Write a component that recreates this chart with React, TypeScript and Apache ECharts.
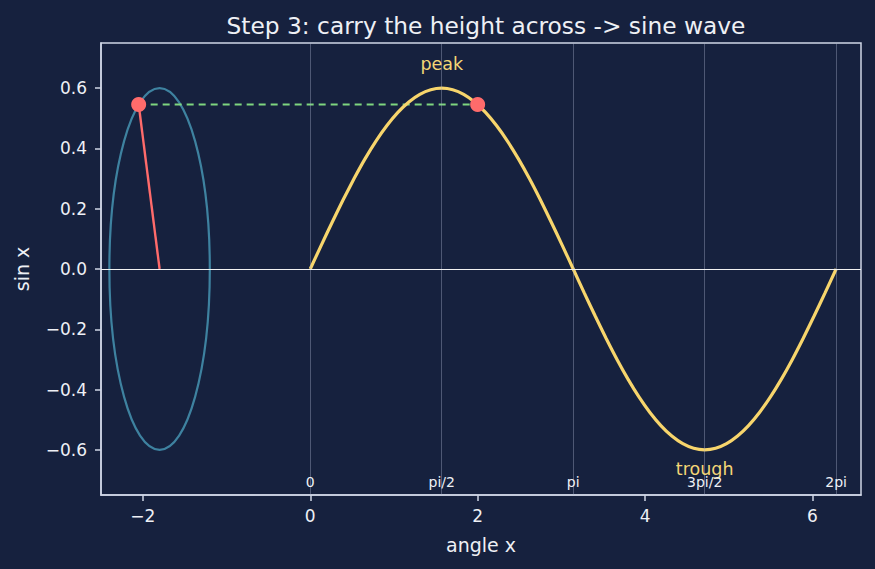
import React, { useEffect, useRef } from "react";
import * as echarts from "echarts";

const titleText = "Step 3: carry the height across -> sine wave";
const xTicks = [-2, 0, 2, 4, 6];
const yTicks = [-0.6, -0.4, -0.2, 0, 0.2, 0.4, 0.6];

const sineX = [0, 0.131, 0.262, 0.393, 0.524, 0.654, 0.785, 0.916, 1.047, 1.178, 1.309, 1.44, 1.571, 1.702, 1.833, 1.963, 2.094, 2.225, 2.356, 2.487, 2.618, 2.749, 2.88, 3.011, 3.142, 3.272, 3.403, 3.534, 3.665, 3.796, 3.927, 4.058, 4.189, 4.32, 4.451, 4.581, 4.712, 4.843, 4.974, 5.105, 5.236, 5.367, 5.498, 5.629, 5.76, 5.89, 6.021, 6.152, 6.283];
const sineY = [0, 0.0783, 0.1553, 0.2296, 0.3, 0.3653, 0.4243, 0.476, 0.5196, 0.5543, 0.5796, 0.5949, 0.6, 0.5949, 0.5796, 0.5543, 0.5196, 0.476, 0.4243, 0.3653, 0.3, 0.2296, 0.1553, 0.0783, 0, -0.0783, -0.1553, -0.2296, -0.3, -0.3653, -0.4243, -0.476, -0.5196, -0.5543, -0.5796, -0.5949, -0.6, -0.5949, -0.5796, -0.5543, -0.5196, -0.476, -0.4243, -0.3653, -0.3, -0.2296, -0.1553, -0.0783, 0];

const circleCenter = [-1.8, 0];
const circleRadius = 0.6;
const radiusLine = [[-1.8, 0], [-2.05, 0.546]];
const heightDots = [[-2.05, 0.546], [2.0, 0.546]];

const guideX = [0, 1.571, 3.142, 4.712, 6.283];
const guideLabels = ["0", "pi/2", "pi", "3pi/2", "2pi"];
const guideLabelY = -0.707;

const annotations = [
  { name: "peak", value: [1.571, 0.68] },
  { name: "trough", value: [4.712, -0.663] },
];

const BG = "#16213e";
const TEXT = "#eef0f5";
const SPINE = "#cfd6e6";
const YELLOW = "#f7d56c";
const TEAL = "#3e82a0";
const RED = "#ff6b6b";
const GREEN = "#7ed67f";
const FONT = "DejaVu Sans";

const fmt = (v: number, d: number) => (v < 0 ? "\u2212" + Math.abs(v).toFixed(d) : v.toFixed(d));

export default function App() {
  const ref = useRef<HTMLDivElement>(null);
  useEffect(() => {
    const chart = echarts.init(ref.current!, null, { renderer: "svg" });
    const option: any = {
      animation: false,
      backgroundColor: BG,
      textStyle: { fontFamily: FONT },
      title: {
        text: titleText,
        left: 481,
        top: 9,
        textAlign: "center",
        textStyle: { color: TEXT, fontSize: 23.3, fontWeight: "normal", fontFamily: FONT },
      },
      grid: {
        left: 101,
        right: 14,
        top: 43,
        bottom: 74,
        show: true,
        borderColor: SPINE,
        borderWidth: 1.5,
        backgroundColor: "transparent",
      },
      xAxis: {
        type: "value",
        min: -2.5,
        max: 6.58,
        name: "angle x",
        nameLocation: "middle",
        nameGap: 40,
        nameTextStyle: { color: TEXT, fontSize: 19, fontFamily: FONT },
        axisLine: { show: true, onZero: false, lineStyle: { color: SPINE, width: 1.5 } },
        axisTick: { show: true, inside: false, length: 6, lineStyle: { color: SPINE, width: 1.5 }, customValues: xTicks },
        axisLabel: { color: TEXT, fontSize: 17, margin: 12, fontFamily: FONT, customValues: xTicks, formatter: (v: number) => fmt(v, 0) },
        splitLine: { show: false },
      },
      yAxis: {
        type: "value",
        min: -0.75,
        max: 0.75,
        name: "sin x",
        nameLocation: "middle",
        nameGap: 70,
        nameTextStyle: { color: TEXT, fontSize: 19, fontFamily: FONT },
        axisLine: { show: true, onZero: false, lineStyle: { color: SPINE, width: 1.5 } },
        axisTick: { show: true, inside: false, length: 6, lineStyle: { color: SPINE, width: 1.5 }, customValues: yTicks },
        axisLabel: { color: TEXT, fontSize: 17, margin: 14, fontFamily: FONT, customValues: yTicks, formatter: (v: number) => fmt(v, 1) },
        splitLine: { show: false },
      },
      series: [
        {
          type: "custom",
          z: 1,
          clip: false,
          data: [[circleCenter[0], circleCenter[1], circleRadius]],
          renderItem: (params: any, api: any) => {
            const c = api.coord([api.value(0), api.value(1)]);
            const s = api.size([api.value(2), api.value(2)]);
            return {
              type: "ellipse",
              shape: { cx: c[0], cy: c[1], rx: s[0], ry: s[1] },
              style: { fill: "none", stroke: TEAL, lineWidth: 2.2 },
            };
          },
          markLine: {
            silent: true,
            symbol: ["none", "none"],
            label: { show: false },
            data: [
              ...guideX.map((x) => ({ xAxis: x, lineStyle: { color: "rgba(170,180,205,0.38)", width: 1, type: "solid" } })),
              { yAxis: 0, lineStyle: { color: "#f2f2f2", width: 1.1, type: "solid" } },
            ],
          },
        },
        {
          type: "line",
          z: 2,
          data: radiusLine,
          symbol: "none",
          lineStyle: { color: RED, width: 2.4 },
        },
        {
          type: "line",
          z: 3,
          data: heightDots,
          symbol: "none",
          lineStyle: { color: GREEN, width: 2, type: [7, 5] },
        },
        {
          type: "line",
          z: 4,
          data: sineX.map((x, i) => [x, sineY[i]]),
          symbol: "none",
          smooth: 0.2,
          lineStyle: { color: YELLOW, width: 3.2 },
        },
        {
          type: "scatter",
          z: 5,
          data: heightDots,
          symbolSize: 15,
          itemStyle: { color: RED, opacity: 1 },
        },
        {
          type: "scatter",
          z: 6,
          symbolSize: 0,
          itemStyle: { opacity: 1 },
          data: annotations,
          label: {
            show: true,
            position: "inside",
            formatter: (p: any) => p.name,
            color: "#f4d676",
            opacity: 1,
            fontSize: 17.5,
            fontFamily: FONT,
          },
        },
        {
          type: "scatter",
          z: 7,
          symbolSize: 0,
          itemStyle: { opacity: 1 },
          data: guideX.map((x, i) => ({ name: guideLabels[i], value: [x, guideLabelY] })),
          label: {
            show: true,
            position: "inside",
            formatter: (p: any) => p.name,
            color: TEXT,
            opacity: 1,
            fontSize: 14,
            fontFamily: FONT,
          },
        },
      ],
    };
    chart.setOption(option);
    return () => chart.dispose();
  }, []);
  return <div ref={ref} style={{ width: 875, height: 569, position: "fixed", left: 0, top: 0 }} />;
}
